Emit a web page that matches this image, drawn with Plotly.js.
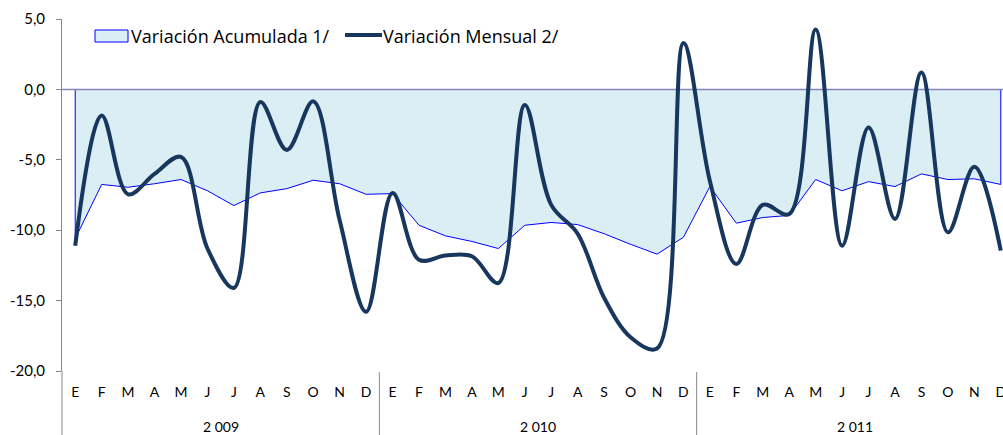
<!DOCTYPE html>
<html>
<head>
<meta charset="utf-8">
<script src="https://cdn.plot.ly/plotly-3.0.1.min.js"></script>
<style>
html,body{margin:0;padding:0;overflow:hidden;background:#fff;}
#chart{width:1014px;height:435px;}
</style>
</head>
<body>
<div id="chart"></div>
<script>
// ---- data ----
const monthLetters = ['E','F','M','A','M','J','J','A','S','O','N','D'];
const years = ['2 009','2 010','2 011'];
const variacionAcumulada = [
  -10.6, -6.75, -6.95, -6.7, -6.4, -7.2, -8.25, -7.35, -7.05, -6.45, -6.7, -7.45,
  -7.4, -9.65, -10.4, -10.8, -11.3, -9.65, -9.45, -9.6, -10.25, -11.0, -11.7, -10.5,
  -6.9, -9.5, -9.1, -8.95, -6.4, -7.2, -6.55, -6.9, -6.0, -6.4, -6.35, -6.75
];
const variacionMensual = [
  -11.1, -1.85, -7.45, -6.0, -4.8, -11.3, -14.1, -0.9, -4.3, -0.85, -9.3, -15.8,
  -7.35, -12.1, -11.8, -11.85, -13.75, -1.1, -8.2, -10.25, -14.8, -17.6, -18.4, 3.3,
  -6.5, -12.4, -8.2, -8.85, 4.25, -11.1, -2.7, -9.2, 1.2, -10.15, -5.5, -11.45
];
const yTickVals = [5, 0, -5, -10, -15, -20];
const yTickText = ['5,0', '0,0', '-5,0', '-10,0', '-15,0', '-20,0'];
const seriesNames = ['Variación Acumulada 1/', 'Variación Mensual 2/'];

// ---- derived ----
const n = variacionMensual.length;
const idx = variacionMensual.map((_, i) => i);
const monthLabels = [];
years.forEach(() => monthLabels.push(...monthLetters));
const areaX = [idx[0]].concat(idx, [idx[n - 1]]);
const areaY = [0].concat(variacionAcumulada, [0]);

const font = 'Lato, "Open Sans", sans-serif';
const legendFont = '"Open Sans", Lato, sans-serif';
const gray = '#868686';
const fillColor = '#DBEEF3';
const areaLine = '#0000FF';
const darkLine = '#17375E';

const traces = [
  {
    x: areaX, y: areaY, mode: 'lines', fill: 'toself',
    fillcolor: fillColor, line: {color: areaLine, width: 1},
    name: seriesNames[0], hoverinfo: 'skip', showlegend: false
  },
  {
    x: [-0.5, n - 0.5], y: [0, 0], mode: 'lines',
    line: {color: '#8585BD', width: 1.5}, showlegend: false, hoverinfo: 'skip'
  },
  {
    x: idx, y: variacionMensual, mode: 'lines',
    line: {color: darkLine, width: 4, shape: 'spline', smoothing: 1},
    name: seriesNames[1], showlegend: false
  }
];

// pixel -> paper helpers for legend/decoration placement
const L = 62, T = 19, W = 952, H = 352;
const px = v => (v - L) / W;
const py = v => (T + H - v) / H;

const shapes = [];
const annotations = [];
// left axis extension below plot
shapes.push({type: 'line', xref: 'paper', yref: 'paper', x0: 0, x1: 0, y0: 0, y1: py(435),
  line: {color: gray, width: 1}});
years.forEach((yr, k) => {
  const center = k * 12 + 5.5;
  annotations.push({x: center, xref: 'x', y: py(426), yref: 'paper', text: yr,
    showarrow: false, font: {family: font, size: 14, color: '#000'}, yanchor: 'middle'});
  if (k > 0) {
    shapes.push({type: 'line', xref: 'x', yref: 'paper', x0: k * 12 - 0.5, x1: k * 12 - 0.5,
      y0: py(372), y1: py(435), line: {color: gray, width: 1}});
  }
});

// manual legend
shapes.push({type: 'rect', xref: 'paper', yref: 'paper', x0: px(95), x1: px(128), y0: py(42), y1: py(30),
  fillcolor: fillColor, line: {color: areaLine, width: 1}});
annotations.push({x: px(129), y: py(36), xref: 'paper', yref: 'paper', xanchor: 'left', yanchor: 'middle',
  text: seriesNames[0], showarrow: false, font: {family: legendFont, size: 18, color: '#000'}});
shapes.push({type: 'line', xref: 'paper', yref: 'paper', x0: px(345), x1: px(382), y0: py(35), y1: py(35),
  line: {color: darkLine, width: 4}});
annotations.push({x: px(381), y: py(36), xref: 'paper', yref: 'paper', xanchor: 'left', yanchor: 'middle',
  text: seriesNames[1], showarrow: false, font: {family: legendFont, size: 18, color: '#000'}});

const layout = {
  width: 1014, height: 435,
  margin: {l: L, r: 1014 - L - W, t: T, b: 435 - T - H},
  paper_bgcolor: '#fff', plot_bgcolor: 'rgba(0,0,0,0)',
  font: {family: font, size: 14, color: '#000'},
  showlegend: false,
  xaxis: {
    range: [-0.5, n - 0.5], tickvals: idx, ticktext: monthLabels,
    showgrid: false, zeroline: false, showline: false, ticks: '',
    ticklabelstandoff: 11,
    tickfont: {family: font, size: 14, color: '#000'}, fixedrange: true
  },
  yaxis: {
    range: [-20, 5], tickvals: yTickVals, ticktext: yTickText,
    showgrid: false, zeroline: false, showline: true, linecolor: gray, linewidth: 1,
    ticks: 'outside', ticklen: 5, tickcolor: gray, ticklabelstandoff: 8,
    tickfont: {family: font, size: 15, color: '#000'}, fixedrange: true
  },
  shapes: shapes,
  annotations: annotations
};

Plotly.newPlot('chart', traces, layout, {displayModeBar: false, staticPlot: true});
</script>
</body>
</html>
